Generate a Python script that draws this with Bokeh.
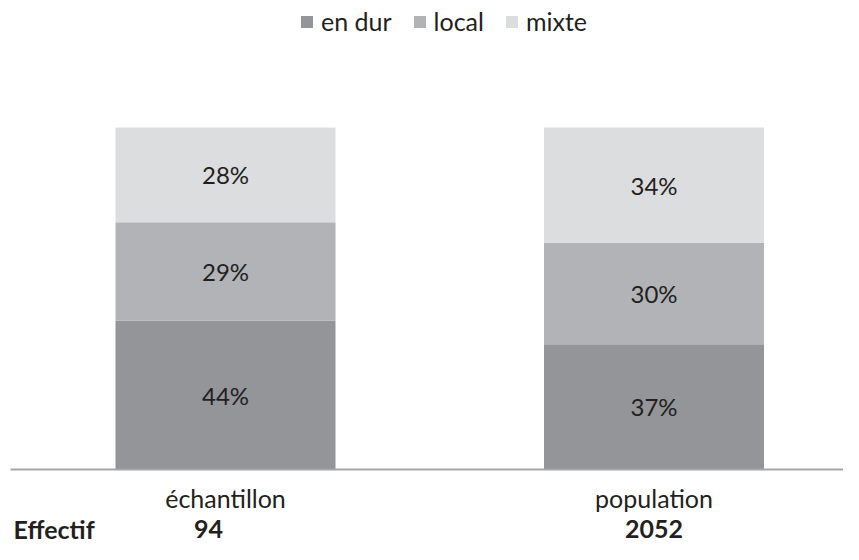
from bokeh.plotting import figure
from bokeh.models import ColumnDataSource, Range1d, Legend, LegendItem
from bokeh.core.properties import value
from bokeh.embed import file_html
from bokeh.resources import INLINE

# ---- data ----
categories = ["échantillon", "population"]
series = ["en dur", "local", "mixte"]
en_dur = [44, 37]
local = [29, 30]
mixte = [28, 34]
effectif = [94, 2052]
effectif_label = "Effectif"
colors = ["#939598", "#b1b3b6", "#dcdddf"]

FONT = "Lato"
TXT = "#231f20"

W, H = 843, 544
xs = list(range(len(categories)))
totals = [a + b + c for a, b, c in zip(en_dur, local, mixte)]
ytop = max(totals)

# layout geometry (pixels)
unit_px = 428.5          # one category step
first_center_px = 225    # centre of first bar
base_px, top_px = 469, 127
py = (base_px - top_px) / ytop   # pixels per percent

x0 = -first_center_px / unit_px
x1 = x0 + W / unit_px
y0 = -(H - base_px) / py
y1 = ytop + top_px / py

p = figure(width=W, height=H, output_backend="svg", toolbar_location=None,
           x_range=Range1d(x0, x1), y_range=Range1d(y0, y1),
           min_border_left=0, min_border_right=0, min_border_top=0, min_border_bottom=0)
p.outline_line_color = None
p.xgrid.grid_line_color = None
p.ygrid.grid_line_color = None
p.xaxis.visible = False
p.yaxis.visible = False
p.background_fill_color = "white"
p.border_fill_color = "white"

src = ColumnDataSource(dict(x=xs, en_dur=en_dur, local=local, mixte=mixte))
cols = ["en_dur", "local", "mixte"]
renderers = p.vbar_stack(cols, x="x", width=220 / unit_px, source=src, color=colors, line_color=None)

# baseline (category axis line)
p.segment(x0=[x0 + 10 / unit_px], y0=[0], x1=[x1], y1=[0], line_color="#a6a6a6", line_width=2)

# percentage labels
bottoms = [0] * len(xs)
lx, ly, lt = [], [], []
for vals in (en_dur, local, mixte):
    for i, v in enumerate(vals):
        lx.append(xs[i])
        ly.append(bottoms[i] + v / 2)
        lt.append(f"{v}%")
        bottoms[i] += v
p.text(x=lx, y=ly, text=lt, text_align="center", text_baseline="middle",
       text_font=value(FONT), text_font_size="24px", text_color=TXT)

# category labels
p.text(x=xs, y=[-28 / py] * len(xs), text=categories, text_align="center",
       text_baseline="middle", text_font=value(FONT), text_font_size="25px", text_color=TXT)

# Effectif row
eff_y = -59 / py
p.text(x=[x0 + 13 / unit_px], y=[eff_y], text=[effectif_label], text_align="left",
       text_baseline="middle", text_font=value(FONT), text_font_style="bold",
       text_font_size="25px", text_color=TXT)
p.text(x=xs, y=[eff_y] * len(xs), text=[str(n) for n in effectif], text_align="center",
       x_offset=[-17, 0], text_baseline="middle", text_font=value(FONT),
       text_font_style="bold", text_font_size="25px", text_color=TXT)

# legend
legend = Legend(items=[LegendItem(label=s, renderers=[r]) for s, r in zip(series, renderers)],
                orientation="horizontal", location=(299, H - 36),
                glyph_width=15, glyph_height=15, label_standoff=7, spacing=20,
                padding=0, margin=0, border_line_color=None, background_fill_alpha=0,
                label_text_font=FONT, label_text_font_size="25px", label_text_color=TXT)
p.add_layout(legend, "center")

open("out.html", "w").write(file_html(p, INLINE))
